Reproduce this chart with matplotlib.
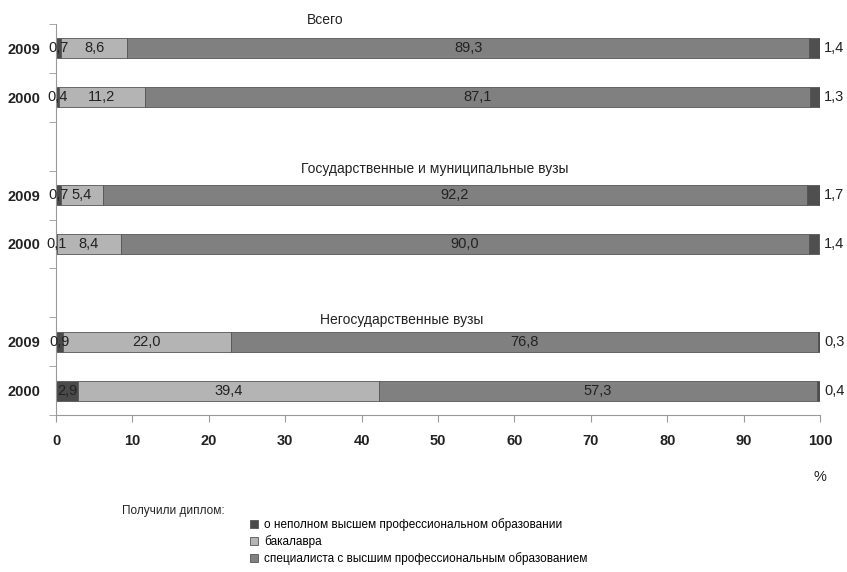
import numpy as np
import matplotlib.pyplot as plt

# данные
years = ['2009', '2000', '2009', '2000', '2009', '2000']
ypos = [0, 1, 3, 4, 6, 7]
groups = ['Всего', 'Государственные и муниципальные вузы', 'Негосударственные вузы']
group_x = [35.2, 49.6, 45.3]

nepoln = [0.7, 0.4, 0.7, 0.1, 0.9, 2.9]
bakalavr = [8.6, 11.2, 5.4, 8.4, 22.0, 39.4]
specialist = [89.3, 87.1, 92.2, 90.0, 76.8, 57.3]
prochee = [1.4, 1.3, 1.7, 1.4, 0.3, 0.4]

legend_labels = ['о неполном высшем профессиональном образовании',
                 'бакалавра',
                 'специалиста с высшим профессиональным образованием']

colors = ['#4a4a4a', '#b4b4b4', '#808080', '#4f4f4f']
num_font = ['Liberation Sans', 'DejaVu Sans']
txt_font = ['Liberation Sans', 'DejaVu Sans']


def fmt(v):
    return ('%.1f' % v).replace('.', ',')


fig = plt.figure(figsize=(8.47, 5.72), dpi=100)
ax = fig.add_axes([56/847, 1-415/572, (820-56)/847, (415-24)/572])

series = [nepoln, bakalavr, specialist, prochee]
left = np.zeros(len(ypos))
handles = []
for k, vals in enumerate(series):
    vals = np.array(vals)
    b = ax.barh(ypos, vals, left=left, height=0.41, color=colors[k],
                edgecolor='#555555', linewidth=0.6)
    handles.append(b)
    for i in range(len(ypos)):
        if k < 3:
            ax.text(left[i] + vals[i]/2, ypos[i], fmt(vals[i]), ha='center', va='center',
                    fontsize=10.5, family=num_font, color='#222222')
        else:
            ax.annotate(fmt(vals[i]), xy=(100, ypos[i]), xytext=(3, 0),
                        textcoords='offset points', ha='left', va='center',
                        fontsize=10.5, family=num_font, color='#222222',
                        annotation_clip=False)
    left = left + vals

# заголовки групп
title_y = [-0.58, 2.46, 5.55]
for g, gx, gy in zip(groups, group_x, title_y):
    ax.text(gx, gy, g, ha='center', va='center', fontsize=10, family=txt_font,
            color='#222222')

ax.set_xlim(0, 100)
ax.set_ylim(7.5, -0.5)
ax.set_xticks(np.arange(0, 101, 10))
ax.set_xticklabels([str(v) for v in range(0, 101, 10)], family=num_font,
                   fontsize=10.5, fontweight='bold', color='#222222')
ax.set_yticks(ypos)
ax.set_yticklabels(years, family=num_font, fontsize=10.5, fontweight='bold', color='#222222')
ax.set_yticks(np.arange(-0.5, 8, 1), minor=True)
ax.tick_params(axis='y', which='major', length=0, pad=11)
ax.tick_params(axis='y', which='minor', length=5, color='#999999')
ax.tick_params(axis='x', length=5, color='#999999', pad=9)

for s in ['top', 'right']:
    ax.spines[s].set_visible(False)
ax.spines['left'].set_color('#999999')
ax.spines['bottom'].set_color('#999999')

fig.text(820/847, 1-477/572, '%', ha='center', va='center', fontsize=10.5,
         family=txt_font, color='#222222')
fig.text(122/847, 1-511/572, 'Получили диплом:', ha='left', va='center',
         fontsize=8.5, family=txt_font, color='#222222')

fig.legend(handles[:3], legend_labels, loc='upper left',
           bbox_to_anchor=(250/847, 1-518/572), frameon=False,
           prop={'family': txt_font, 'size': 8.5},
           handlelength=0.7, handleheight=0.7, handletextpad=0.5,
           labelspacing=0.35, borderpad=0, borderaxespad=0)

plt.savefig('out.png', dpi=100)
